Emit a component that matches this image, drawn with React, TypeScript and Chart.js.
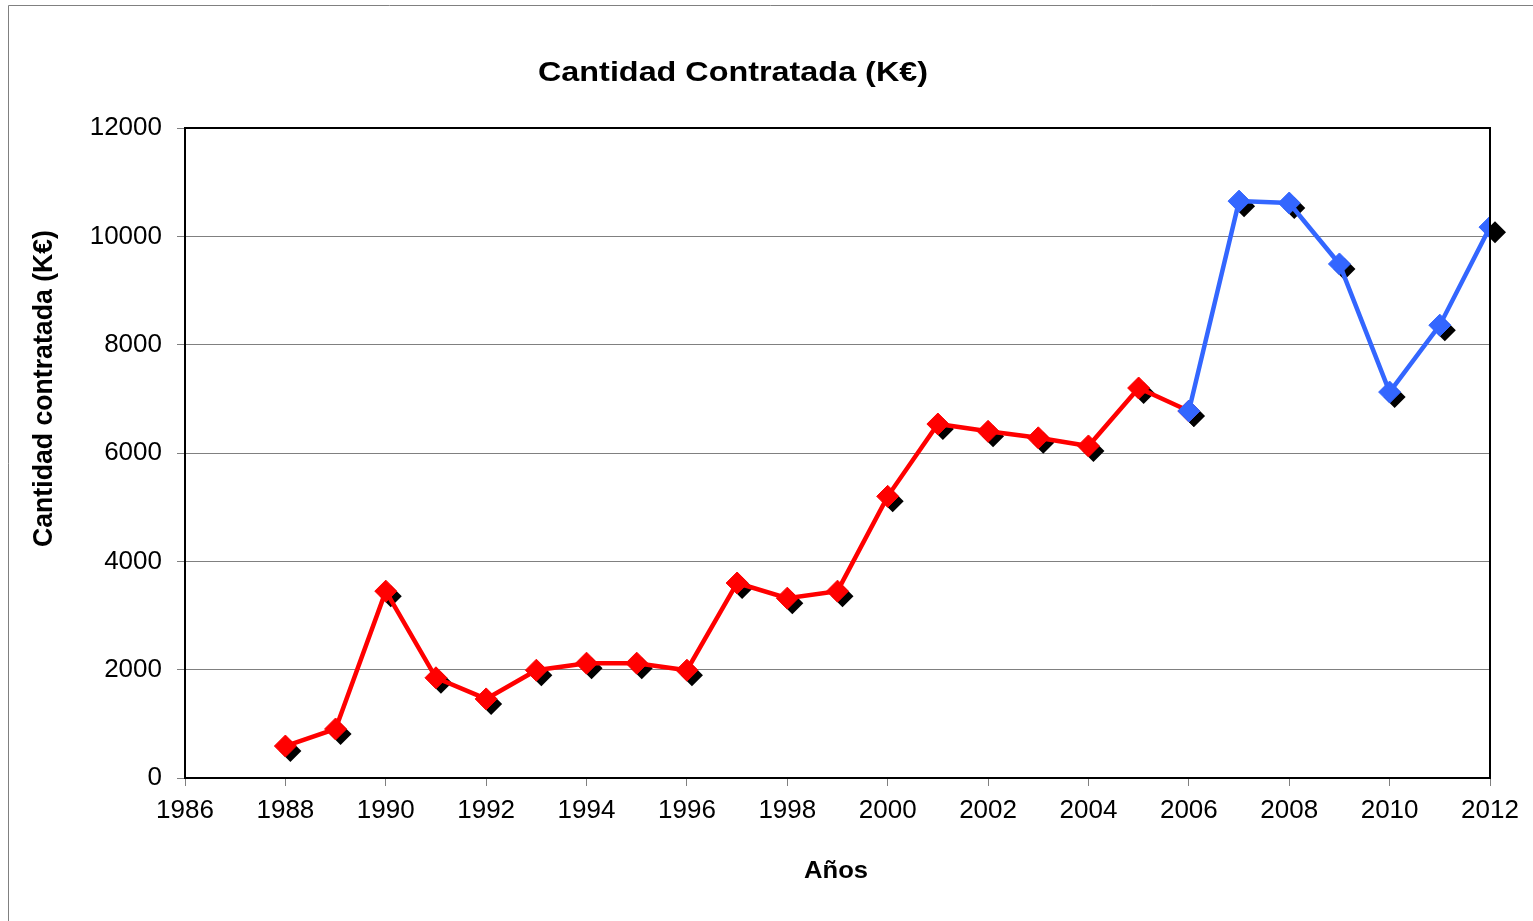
import React, { useEffect, useRef } from "react";
import { Chart, registerables } from "chart.js";

Chart.register(...registerables);

const redYears = [1988, 1989, 1990, 1991, 1992, 1993, 1994, 1995, 1996, 1997, 1998, 1999, 2000, 2001, 2002, 2003, 2004, 2005, 2006];
const redValues = [590, 905, 3450, 1850, 1460, 1990, 2120, 2120, 1990, 3600, 3320, 3450, 5200, 6535, 6400, 6280, 6130, 7200, 6775];
const blueYears = [2006, 2007, 2008, 2009, 2010, 2011, 2012];
const blueValues = [6775, 10650, 10615, 9490, 7125, 8360, 10170];

const chartTitle = "Cantidad Contratada (K€)";
const xTitle = "Años";
const yTitle = "Cantidad contratada (K€)";

const FONT = "'Liberation Sans', Arial, sans-serif";

const decorPlugin = {
  id: "decor",
  beforeDatasetsDraw(chart: any) {
    const ctx = chart.ctx;
    ctx.save();
    ctx.fillStyle = "#000";
    chart.data.datasets.forEach((_: any, di: number) => {
      const meta = chart.getDatasetMeta(di);
      meta.data.forEach((pt: any) => {
        const x = pt.x + 5;
        const y = pt.y + 5;
        const r = 11;
        ctx.beginPath();
        ctx.moveTo(x - r, y);
        ctx.lineTo(x, y - r);
        ctx.lineTo(x + r, y);
        ctx.lineTo(x, y + r);
        ctx.closePath();
        ctx.fill();
      });
    });
    ctx.restore();
  },
  afterDraw(chart: any) {
    const ctx = chart.ctx;
    const a = chart.chartArea;
    ctx.save();
    ctx.strokeStyle = "#000";
    ctx.lineWidth = 2;
    ctx.strokeRect(a.left, a.top, a.right - a.left, a.bottom - a.top);
    ctx.strokeStyle = "#808080";
    ctx.lineWidth = 1;
    ctx.beginPath();
    ctx.moveTo(8.5, chart.height);
    ctx.lineTo(8.5, 5.5);
    ctx.lineTo(chart.width, 5.5);
    ctx.stroke();

    ctx.fillStyle = "#000";
    const drawStretched = (text: string, left: number, baseline: number, size: number, targetW: number) => {
      ctx.font = `bold ${size}px ${FONT}`;
      const w = ctx.measureText(text).width;
      ctx.save();
      ctx.translate(left, baseline);
      ctx.scale(targetW / w, 1);
      ctx.textAlign = "left";
      ctx.textBaseline = "alphabetic";
      ctx.fillText(text, 0, 0);
      ctx.restore();
    };
    drawStretched(chartTitle, 538, 81, 28, 390);
    drawStretched(xTitle, 804, 878, 24, 64);

    ctx.save();
    ctx.translate(52, 547);
    ctx.rotate(-Math.PI / 2);
    ctx.font = `bold 27px ${FONT}`;
    const w = ctx.measureText(yTitle).width;
    ctx.scale(317 / w, 1);
    ctx.textAlign = "left";
    ctx.textBaseline = "alphabetic";
    ctx.fillText(yTitle, 0, 0);
    ctx.restore();
    ctx.restore();
  },
};

export default function App() {
  const ref = useRef<HTMLCanvasElement>(null);
  useEffect(() => {
    document.body.style.margin = "0";
    const canvas = ref.current!;
    const mk = (color: string) => ({
      borderColor: color,
      backgroundColor: color,
      borderWidth: 4.5,
      pointStyle: "rectRot" as const,
      pointRadius: 11,
      pointBorderWidth: 1,
      pointBorderColor: color,
      pointBackgroundColor: color,
      tension: 0,
    });
    const chart = new Chart(canvas, {
      type: "line",
      data: {
        datasets: [
          {
            label: "2006-2012",
            data: blueYears.map((y, i) => ({ x: y, y: blueValues[i] })),
            ...mk("#3366FF"),
            order: 0,
          },
          {
            label: "1988-2006",
            data: redYears.map((y, i) => ({ x: y, y: redValues[i] })),
            ...mk("#FF0000"),
            order: 1,
          },
        ],
      },
      options: {
        responsive: false,
        animation: false,
        devicePixelRatio: 1,
        layout: { padding: { left: 0, top: 128, right: 43, bottom: 0 } },
        plugins: {
          legend: { display: false },
          tooltip: { enabled: false },
          title: { display: false },
        },
        scales: {
          x: {
            type: "linear",
            min: 1986,
            max: 2012,
            ticks: {
              stepSize: 2,
              color: "#000",
              font: { family: FONT, size: 26 },
              padding: 9,
              maxRotation: 0,
              autoSkip: false,
              callback: (v: any) => String(v),
            },
            grid: {
              drawOnChartArea: false,
              drawTicks: true,
              tickLength: 8,
              color: "#808080",
            },
            border: { display: true, color: "#000", width: 2 },
            afterFit: (s: any) => {
              s.height = 143;
            },
          },
          y: {
            min: 0,
            max: 12000,
            ticks: {
              stepSize: 2000,
              color: "#000",
              font: { family: FONT, size: 26 },
              padding: 15,
              callback: (v: any) => String(v),
            },
            grid: {
              drawOnChartArea: true,
              drawTicks: true,
              tickLength: 8,
              color: "#808080",
              lineWidth: 1,
            },
            border: { display: true, color: "#000", width: 2 },
            afterFit: (s: any) => {
              s.width = 185;
            },
          },
        },
      },
      plugins: [decorPlugin],
    });
    return () => chart.destroy();
  }, []);
  return (
    <div style={{ position: "fixed", left: 0, top: 0, width: 1533, height: 921, background: "#fff" }}>
      <canvas ref={ref} width={1533} height={921} style={{ display: "block" }} />
    </div>
  );
}
